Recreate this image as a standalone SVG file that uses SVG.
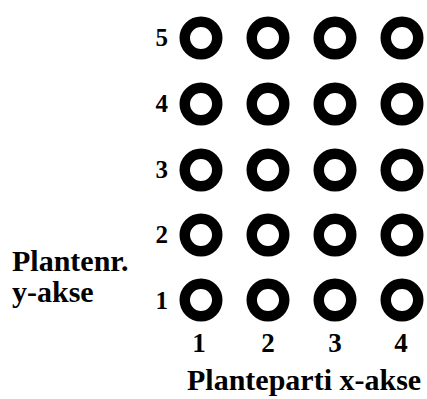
<svg xmlns="http://www.w3.org/2000/svg" width="427" height="399" viewBox="0 0 427 399">
  <style>
    .plant { fill: none; stroke: #000; stroke-width: 10.5; }
    .lbl { font-family: "Liberation Serif", "Times New Roman", serif; font-weight: bold; fill: #000; }
    .rownum { font-size: 25px; }
    .colnum { font-size: 27px; }
    .axis { font-size: 30px; }
  </style>
  <defs>
    <circle id="ring" r="16.25" class="plant"/>
  </defs>
  <rect width="427" height="399" fill="#fff"/>

  <!-- plant grid: 4 columns (x) by 5 rows (y) -->
  <g id="plants">
    <g id="row5">
      <use href="#ring" x="201" y="38"/><use href="#ring" x="268" y="38"/><use href="#ring" x="335" y="38"/><use href="#ring" x="402" y="38"/>
    </g>
    <g id="row4">
      <use href="#ring" x="201" y="104"/><use href="#ring" x="268" y="104"/><use href="#ring" x="335" y="104"/><use href="#ring" x="402" y="104"/>
    </g>
    <g id="row3">
      <use href="#ring" x="201" y="170"/><use href="#ring" x="268" y="170"/><use href="#ring" x="335" y="170"/><use href="#ring" x="402" y="170"/>
    </g>
    <g id="row2">
      <use href="#ring" x="201" y="235"/><use href="#ring" x="268" y="235"/><use href="#ring" x="335" y="235"/><use href="#ring" x="402" y="235"/>
    </g>
    <g id="row1">
      <use href="#ring" x="201" y="300"/><use href="#ring" x="268" y="300"/><use href="#ring" x="335" y="300"/><use href="#ring" x="402" y="300"/>
    </g>
  </g>

  <!-- row numbers -->
  <g id="row-labels" class="lbl rownum" text-anchor="end">
    <text x="168" y="46">5</text>
    <text x="168" y="112">4</text>
    <text x="168" y="178">3</text>
    <text x="168" y="243">2</text>
    <text x="168" y="309">1</text>
  </g>

  <!-- column numbers -->
  <g id="col-labels" class="lbl colnum" text-anchor="middle">
    <text x="199" y="352">1</text>
    <text x="268" y="352">2</text>
    <text x="335" y="352">3</text>
    <text x="401" y="352">4</text>
  </g>

  <!-- axis titles -->
  <g id="y-axis-title" class="lbl axis">
    <text x="12" y="271">Plantenr.</text>
    <text x="12" y="302">y-akse</text>
  </g>
  <g id="x-axis-title" class="lbl axis">
    <text x="187" y="390">Planteparti x-akse</text>
  </g>
</svg>
